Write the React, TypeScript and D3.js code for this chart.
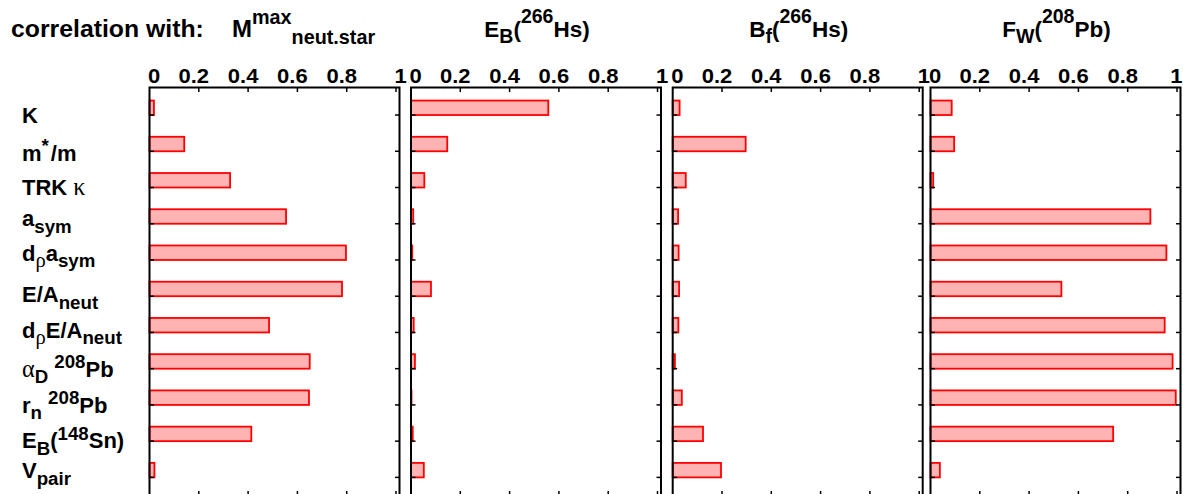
import React from "react";
import * as d3 from "d3";

// ---- data ----
const CATEGORIES = [
  "K",
  "m*/m",
  "TRK κ",
  "a_sym",
  "dρ a_sym",
  "E/A_neut",
  "dρ E/A_neut",
  "αD 208Pb",
  "rn 208Pb",
  "EB(148Sn)",
  "V_pair",
];
const M_MAX_NEUT_STAR = [0.018, 0.141, 0.327, 0.554, 0.797, 0.781, 0.485, 0.65, 0.647, 0.413, 0.02];
const E_B_HS266 = [0.557, 0.147, 0.054, 0.009, 0.005, 0.081, 0.011, 0.016, 0.002, 0.007, 0.052];
const B_F_HS266 = [0.028, 0.296, 0.053, 0.022, 0.024, 0.026, 0.023, 0.009, 0.037, 0.123, 0.196];
const F_W_PB208 = [0.086, 0.096, 0.011, 0.892, 0.957, 0.531, 0.95, 0.982, 0.995, 0.741, 0.038];
const X_TICKS = [0, 0.2, 0.4, 0.6, 0.8, 1];
const X_TICK_LABELS = ["0", "0.2", "0.4", "0.6", "0.8", "1"];

type Seg = { t: string; k?: "sub" | "sup"; serif?: boolean; dx?: number };

// rich-text definitions (rendering spec)
const LABEL_SEGS: Seg[][] = [
  [{ t: "K" }],
  [{ t: "m" }, { t: "*", k: "sup" }, { t: "/m", dx: 2 }],
  [{ t: "TRK " }, { t: "κ", serif: true }],
  [{ t: "a" }, { t: "sym", k: "sub" }],
  [{ t: "d" }, { t: "ρ", k: "sub", serif: true }, { t: "a" }, { t: "sym", k: "sub" }],
  [{ t: "E/A" }, { t: "neut", k: "sub" }],
  [{ t: "d" }, { t: "ρ", k: "sub", serif: true }, { t: "E/A" }, { t: "neut", k: "sub" }],
  [{ t: "α", serif: true }, { t: "D", k: "sub" }, { t: " " }, { t: "208", k: "sup" }, { t: "Pb" }],
  [{ t: "r" }, { t: "n", k: "sub" }, { t: " " }, { t: "208", k: "sup" }, { t: "Pb" }],
  [{ t: "E" }, { t: "B", k: "sub" }, { t: "(" }, { t: "148", k: "sup" }, { t: "Sn)" }],
  [{ t: "V" }, { t: "pair", k: "sub" }],
];
const LABEL_DY = [8.3, 9.7, 7.3, 2.7, 0.6, 6.2, 5.2, 8, 7.7, 7, 0.8];

const PANELS = [
  { values: M_MAX_NEUT_STAR, title: [{ t: "M" }, { t: "max", k: "sup" }, { t: "neut.star", k: "sub" }] as Seg[] },
  { values: E_B_HS266, title: [{ t: "E" }, { t: "B", k: "sub" }, { t: "(" }, { t: "266", k: "sup" }, { t: "Hs)" }] as Seg[] },
  { values: B_F_HS266, title: [{ t: "B" }, { t: "f", k: "sub" }, { t: "(" }, { t: "266", k: "sup" }, { t: "Hs)" }] as Seg[] },
  { values: F_W_PB208, title: [{ t: "F" }, { t: "W", k: "sub" }, { t: "(" }, { t: "208", k: "sup" }, { t: "Pb)" }] as Seg[] },
];

const W = 1183;
const H = 494;
const PANEL_LEFT = [149.5, 411, 672.7, 930.5];
const PANEL_W = 250;
const TOP = 87.5;
const BOTTOM = 495.5;
const FONT = "'Liberation Sans', Arial, Helvetica, sans-serif";
const SERIF = "'Liberation Serif', 'DejaVu Serif', serif";

function Rich({
  segs,
  size,
  subSize,
  subShift,
  supShift,
  serifScale = 1.1,
}: {
  segs: Seg[];
  size: number;
  subSize: number;
  subShift: number;
  supShift: number;
  serifScale?: number;
}) {
  let cur = 0;
  return (
    <>
      {segs.map((s, i) => {
        const target = s.k === "sub" ? subShift : s.k === "sup" ? -supShift : 0;
        const dy = target - cur;
        cur = target;
        const base = s.k ? subSize : size;
        return (
          <tspan
            key={i}
            dy={dy}
            dx={s.dx || 0}
            fontSize={s.serif ? base * serifScale : base}
            fontFamily={s.serif ? SERIF : FONT}
            fontWeight={s.serif ? "normal" : "bold"}
          >
            {s.t}
          </tspan>
        );
      })}
    </>
  );
}

export default function App() {
  const y = d3.scaleLinear().domain([-0.76, 10.5]).range([TOP, BOTTOM]);
  const idx = d3.range(CATEGORIES.length);
  const tickLen = 4.5;

  return (
    <svg
      width={W}
      height={H}
      style={{ position: "absolute", left: 0, top: 0, background: "#fff" }}
      fontFamily={FONT}
      fontWeight="bold"
    >
      <rect x={0} y={0} width={W} height={H} fill="#fff" />
      {/* heading */}
      <text x={11} y={37} fontSize={24.8}>
        correlation with:
      </text>

      {PANELS.map((p, pi) => {
        const left = PANEL_LEFT[pi];
        const x = d3.scaleLinear().domain([0, PANEL_W / 246.5]).range([left, left + PANEL_W]);
        const right = left + PANEL_W;
        const cx = left + PANEL_W / 2;
        return (
          <g key={pi}>
            {/* title */}
            {pi === 0 ? (
              <text x={232} y={37.3} fontSize={24}>
                <Rich segs={p.title} size={24} subSize={19.8} subShift={6.3} supShift={13.6} />
              </text>
            ) : (
              <text x={cx + 1} y={36.7} fontSize={22.5} textAnchor="middle">
                <Rich segs={p.title} size={22.5} subSize={19.5} subShift={6.6} supShift={13.4} />
              </text>
            )}
            {/* bars */}
            {p.values.map((v, i) => (
              <rect
                key={i}
                x={x(0)}
                y={y(i - 0.4)}
                width={Math.max(0.4, x(v) - x(0))}
                height={y(i) - y(i - 0.4)}
                fill="#ffb3b3"
                stroke="#ff0000"
                strokeWidth={1.8}
              />
            ))}
            {/* frame */}
            <rect x={left} y={TOP} width={PANEL_W} height={BOTTOM - TOP} fill="none" stroke="#000" strokeWidth={2} />
            {/* x ticks */}
            {X_TICKS.filter((t) => t > 0).map((t) => (
              <g key={t}>
                <line x1={x(t)} x2={x(t)} y1={TOP} y2={TOP + tickLen} stroke="#000" strokeWidth={1.5} />
                <line x1={x(t)} x2={x(t)} y1={BOTTOM} y2={BOTTOM - tickLen} stroke="#000" strokeWidth={1.5} />
              </g>
            ))}
            {/* y ticks */}
            {idx.map((i) => (
              <g key={i}>
                <line x1={left} x2={left + tickLen} y1={y(i)} y2={y(i)} stroke="#000" strokeWidth={1.5} />
                <line x1={right} x2={right - tickLen} y1={y(i)} y2={y(i)} stroke="#000" strokeWidth={1.5} />
              </g>
            ))}
            {/* tick labels */}
            {X_TICKS.map((t, ti) => {
              const lab = X_TICK_LABELS[ti];
              let tx = x(t) - 5;
              let anchor: "start" | "middle" | "end" = "middle";
              if (t === 0) {
                tx = x(0) - 1.5;
                anchor = "start";
              } else if (t === 1) {
                if (x(1) + 11 > W) {
                  tx = W - 0.5;
                  anchor = "end";
                } else {
                  tx = x(1) - 1.5;
                  anchor = "start";
                }
              }
              return (
                <g key={ti} transform={`translate(${tx},82.7) scale(1.1,1)`}>
                  <text x={0} y={0} fontSize={20} textAnchor={anchor}>
                    {lab}
                  </text>
                </g>
              );
            })}
          </g>
        );
      })}

      {/* row labels */}
      {idx.map((i) => (
        <text key={i} x={22} y={y(i) + LABEL_DY[i]} fontSize={22}>
          <Rich segs={LABEL_SEGS[i]} size={22} subSize={18.7} subShift={6.5} supShift={8.5} />
        </text>
      ))}
    </svg>
  );
}
